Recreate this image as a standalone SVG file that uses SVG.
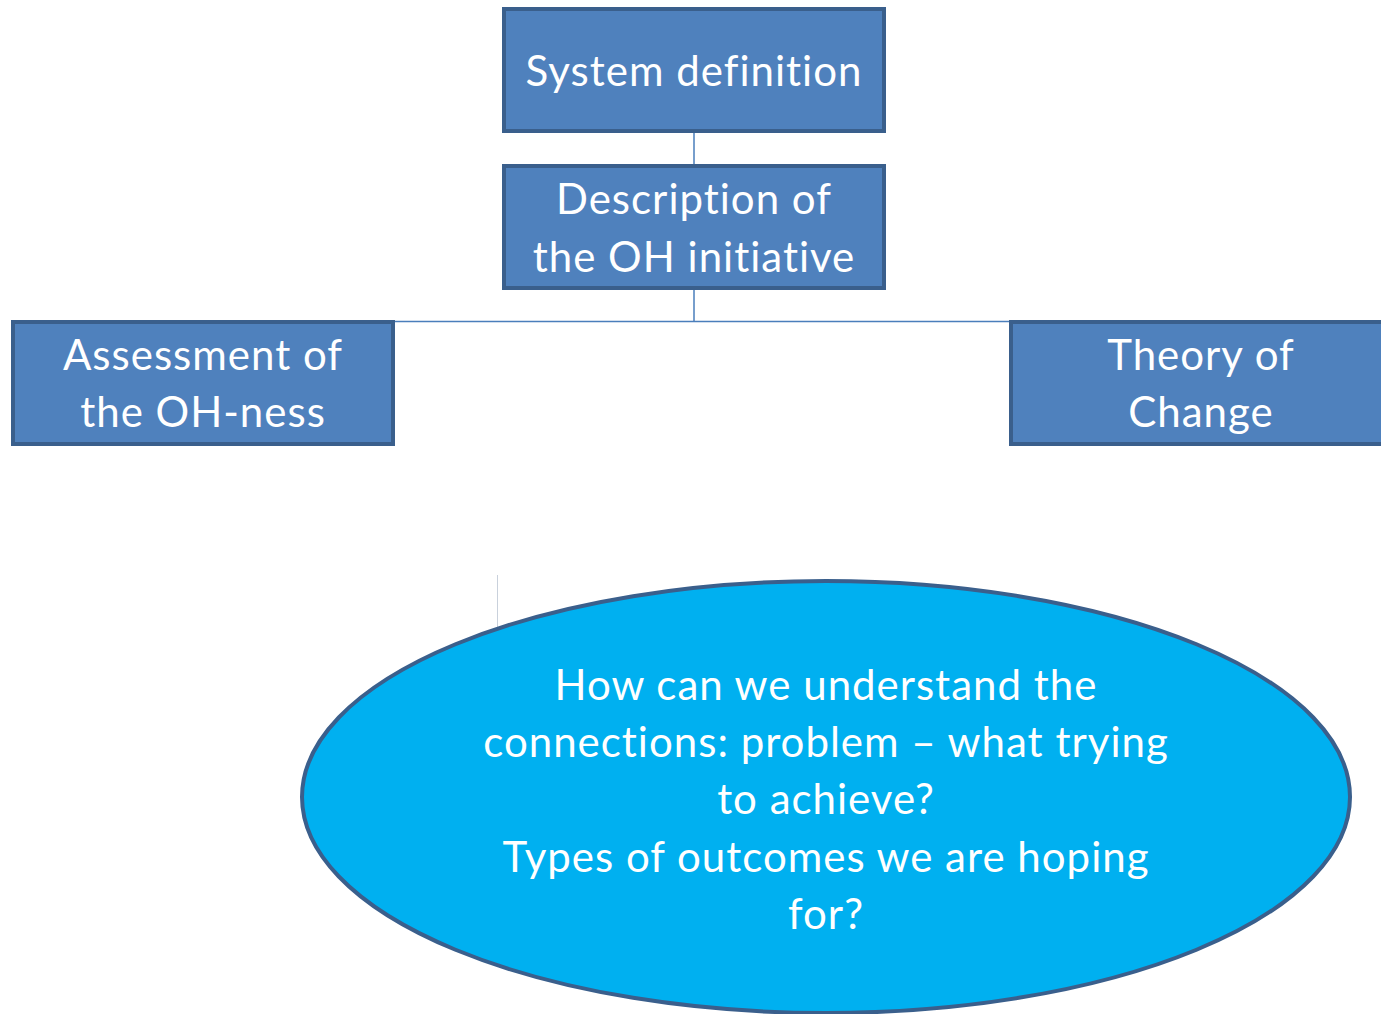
<svg xmlns="http://www.w3.org/2000/svg" width="1381" height="1014" viewBox="0 0 1381 1014">
<style>
.box{fill:#4F81BD;stroke:#3A5F8C;stroke-width:4}
.t{font-family:Lato,"Open Sans","Liberation Sans",sans-serif;font-size:42px;letter-spacing:1px;font-variant-ligatures:none;fill:#FFFFFF;text-anchor:middle}
.c{stroke:#4A7EBB;stroke-width:1.5;fill:none}
</style>
<rect width="1381" height="1014" fill="#FFFFFF"/>
<g id="connectors">
<line class="c" x1="694" y1="131" x2="694" y2="166"/>
<line class="c" x1="694" y1="288" x2="694" y2="322"/>
<line class="c" x1="363" y1="321.5" x2="1020" y2="321.5"/>
<line x1="497.5" y1="575" x2="497.5" y2="628" stroke="#C9D1DC" stroke-width="1"/>
</g>
<g id="system-definition">
<rect class="box" x="504" y="9" width="380" height="122"/>
<text class="t" x="694" y="86">System definition</text>
</g>
<g id="description">
<rect class="box" x="504" y="166" width="380" height="122"/>
<text class="t" x="694" y="214">Description of</text>
<text class="t" x="694" y="272">the OH initiative</text>
</g>
<g id="assessment">
<rect class="box" x="13" y="322" width="380" height="122"/>
<text class="t" x="203" y="370">Assessment of</text>
<text class="t" x="203" y="427">the OH-ness</text>
</g>
<g id="theory">
<rect class="box" x="1011" y="322" width="380" height="122"/>
<text class="t" x="1201" y="370">Theory of</text>
<text class="t" x="1201" y="427">Change</text>
</g>
<g id="question">
<ellipse cx="826" cy="797" rx="524" ry="216" fill="#00B0F0" stroke="#3A5F8C" stroke-width="4"/>
<text class="t" x="826" y="700">How can we understand the</text>
<text class="t" x="826" y="757">connections: problem – what trying</text>
<text class="t" x="826" y="814">to achieve?</text>
<text class="t" x="826" y="872">Types of outcomes we are hoping</text>
<text class="t" x="826" y="929">for?</text>
</g>
</svg>
